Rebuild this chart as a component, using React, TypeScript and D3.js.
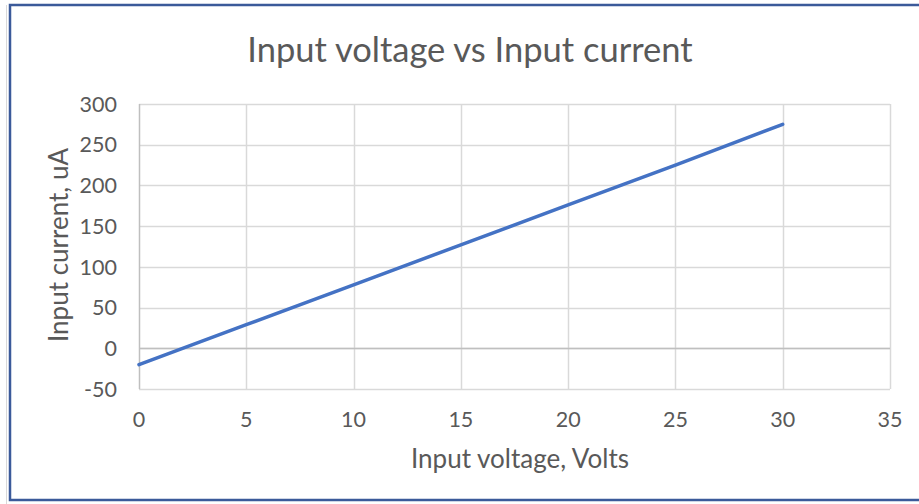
import React, { useEffect, useRef } from 'react'
import * as d3 from 'd3'

// Input voltage (V) vs input current (uA)
const volts = [0, 5, 10, 15, 20, 25, 30]
const currents = [-20, 29, 78, 127, 176, 225, 275]
const xTicks = [0, 5, 10, 15, 20, 25, 30, 35]
const yTicks = [-50, 0, 50, 100, 150, 200, 250, 300]

const title = 'Input voltage vs Input current'
const xTitle = 'Input voltage, Volts'
const yTitle = 'Input current, uA'

export default function App() {
  const ref = useRef<SVGSVGElement | null>(null)

  useEffect(() => {
    if (!ref.current) return
    const width = 919
    const height = 504
    const margin = { top: 104, right: 29, bottom: 115, left: 139 }
    const font = 'Lato, sans-serif'
    const textColor = '#595959'

    const svg = d3
      .select(ref.current)
      .attr('width', width)
      .attr('height', height)
      .style('font-family', font)

    // chart frame
    svg
      .append('line')
      .attr('x1', 6.5)
      .attr('x2', 6.5)
      .attr('y1', 5)
      .attr('y2', 504)
      .attr('stroke', '#d9d9d9')
      .attr('stroke-width', 1)
    svg
      .append('rect')
      .attr('x', 10)
      .attr('y', 5)
      .attr('width', 930)
      .attr('height', 495)
      .attr('fill', 'white')
      .attr('stroke', '#3b5a9a')
      .attr('stroke-width', 2.5)

    const x = d3
      .scaleLinear()
      .domain([0, 35])
      .range([margin.left, width - margin.right])
    const y = d3
      .scaleLinear()
      .domain([-50, 300])
      .range([height - margin.bottom, margin.top])

    // gridlines
    const grid = svg.append('g')
    grid
      .selectAll('line.h')
      .data(yTicks)
      .join('line')
      .attr('x1', x(0))
      .attr('x2', x(35))
      .attr('y1', (d) => Math.round(y(d)) + 0.5)
      .attr('y2', (d) => Math.round(y(d)) + 0.5)
      .attr('stroke', '#d9d9d9')
      .attr('stroke-width', 1.5)
    grid
      .selectAll('line.v')
      .data(xTicks.slice(1))
      .join('line')
      .attr('x1', (d) => Math.round(x(d)) + 0.5)
      .attr('x2', (d) => Math.round(x(d)) + 0.5)
      .attr('y1', y(300))
      .attr('y2', y(-50))
      .attr('stroke', '#d9d9d9')
      .attr('stroke-width', 1.5)

    // axis lines
    svg
      .append('line')
      .attr('x1', Math.round(x(0)) + 0.5)
      .attr('x2', Math.round(x(0)) + 0.5)
      .attr('y1', y(300))
      .attr('y2', y(-50))
      .attr('stroke', '#bfbfbf')
      .attr('stroke-width', 1.5)
    svg
      .append('line')
      .attr('x1', x(0))
      .attr('x2', x(35))
      .attr('y1', Math.round(y(0)) + 0.5)
      .attr('y2', Math.round(y(0)) + 0.5)
      .attr('stroke', '#bfbfbf')
      .attr('stroke-width', 1.5)

    // tick labels
    svg
      .append('g')
      .selectAll('text')
      .data(yTicks)
      .join('text')
      .attr('x', 117)
      .attr('y', (d) => y(d))
      .attr('dy', '0.36em')
      .attr('text-anchor', 'end')
      .attr('fill', textColor)
      .style('font-size', '21.5px')
      .text((d) => d)
    svg
      .append('g')
      .selectAll('text')
      .data(xTicks)
      .join('text')
      .attr('x', (d) => x(d))
      .attr('y', 427)
      .attr('text-anchor', 'middle')
      .attr('fill', textColor)
      .style('font-size', '21.5px')
      .text((d) => d)

    // series
    const line = d3
      .line<number>()
      .x((_d, i) => x(volts[i]))
      .y((d) => y(d))
    svg
      .append('path')
      .datum(currents)
      .attr('d', line)
      .attr('fill', 'none')
      .attr('stroke', '#4472c4')
      .attr('stroke-width', 3.5)
      .attr('stroke-linecap', 'round')

    // titles
    svg
      .append('text')
      .attr('x', 470)
      .attr('y', 62)
      .attr('text-anchor', 'middle')
      .attr('fill', textColor)
      .style('font-size', '34.5px')
      .text(title)
    svg
      .append('text')
      .attr('x', 520)
      .attr('y', 468)
      .attr('text-anchor', 'middle')
      .attr('fill', textColor)
      .style('font-size', '26px')
      .text(xTitle)
    svg
      .append('text')
      .attr('transform', `translate(68, 245) rotate(-90)`)
      .attr('text-anchor', 'middle')
      .attr('fill', textColor)
      .style('font-size', '26px')
      .text(yTitle)

    return () => {
      svg.selectAll('*').remove()
    }
  }, [])

  return (
    <svg
      ref={ref}
      style={{ position: 'absolute', left: 0, top: 0, display: 'block' }}
    />
  )
}
